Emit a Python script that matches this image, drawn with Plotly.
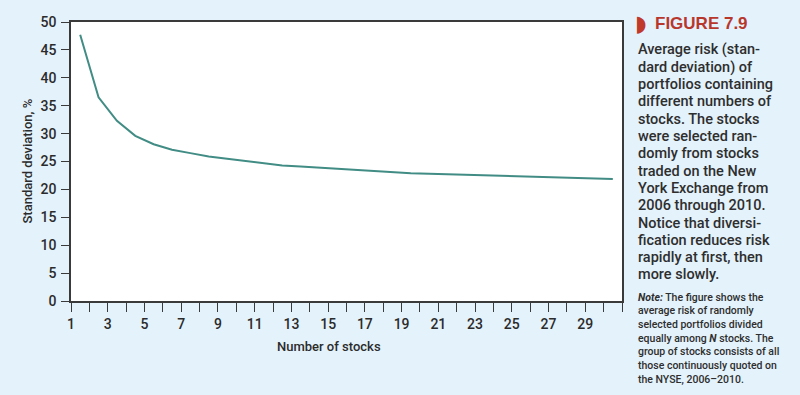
import plotly.graph_objects as go

# Data
num_stocks = list(range(1, 31))
std_dev = [47.7, 36.5, 32.3, 29.6, 28.1, 27.1, 26.5, 25.9, 25.5, 25.1,
           24.7, 24.3, 24.1, 23.9, 23.7, 23.4, 23.2, 23.0, 22.9, 22.8,
           22.7, 22.6, 22.5, 22.45, 22.35, 22.2, 22.1, 22.05, 22.0, 21.85]
x_tick_vals = list(range(1, 32))
x_tick_text = [str(v) if (v % 2 == 1 and v < 31) else "" for v in x_tick_vals]
y_tick_vals = list(range(0, 55, 5))

caption_lines = [
    "Average risk (stan-", "dard deviation) of", "portfolios containing",
    "different numbers of", "stocks. The stocks", "were selected ran-",
    "domly from stocks", "traded on the New", "York Exchange from",
    "2006 through 2010.", "Notice that diversi-", "fication reduces risk",
    "rapidly at first, then", "more slowly.",
]
note_lines = [
    "<b><i>Note:</i></b> The figure shows the",
    "average risk of randomly",
    "selected portfolios divided",
    "equally among <b><i>N</i></b> stocks. The",
    "group of stocks consists of all",
    "those continuously quoted on",
    "the NYSE, 2006–2010.",
]

BG = "#E4F2FB"
AX = "#3a3a3a"
TXT = "#2b2b2b"
ROB = "Roboto, Liberation Sans, Arial, sans-serif"
SANS = "Liberation Sans, Arial, Helvetica, sans-serif"

fig = go.Figure()
fig.add_trace(go.Scatter(
    x=[n + 0.5 for n in num_stocks], y=std_dev, mode="lines",
    line=dict(color="#418c84", width=2), hoverinfo="skip", showlegend=False,
))

tickfont = dict(family=ROB, size=14, color=TXT, weight=500)

fig.update_layout(
    width=800, height=395,
    paper_bgcolor=BG, plot_bgcolor="white",
    margin=dict(l=71, r=178, t=22, b=94),
    xaxis=dict(
        range=[1, 31], tickvals=x_tick_vals, ticktext=x_tick_text,
        ticks="outside", ticklen=9, tickwidth=1.2, tickcolor=AX,
        showline=True, linecolor=AX, linewidth=1.5, mirror=True,
        showgrid=False, zeroline=False, tickfont=tickfont,
    ),
    yaxis=dict(
        range=[0, 50], tickvals=y_tick_vals,
        ticks="outside", ticklen=8, tickwidth=1.2, tickcolor=AX,
        showline=True, linecolor=AX, linewidth=1.5, mirror=True,
        showgrid=False, zeroline=False, tickfont=tickfont,
        ticklabelstandoff=2,
    ),
)

def px_x(px):
    return (px - 71) / 551

def px_y(py):
    return (301 - py) / 279

# axis titles
fig.add_annotation(text="Number of stocks", xref="paper", yref="paper",
                   x=px_x(329), y=px_y(346), showarrow=False,
                   xanchor="center", yanchor="middle",
                   font=dict(family=ROB, size=13, color=TXT, weight=500))
fig.add_annotation(text="Standard deviation, %", xref="paper", yref="paper",
                   x=px_x(27), y=0.5, showarrow=False, textangle=-90,
                   xanchor="center", yanchor="middle",
                   font=dict(family=ROB, size=13, color=TXT, weight=500))

# Figure header
fig.add_annotation(text="◗", xref="paper", yref="paper", x=px_x(633), y=px_y(23),
                   showarrow=False, xanchor="left", yanchor="middle",
                   font=dict(family="DejaVu Sans", size=22, color="#c0392b"))
fig.add_annotation(text="<b>FIGURE 7.9</b>", xref="paper", yref="paper",
                   x=px_x(653), y=px_y(23), showarrow=False,
                   xanchor="left", yanchor="middle",
                   font=dict(family=SANS, size=17, color="#b8372d"))

for i, line in enumerate(caption_lines):
    fig.add_annotation(text=line, xref="paper", yref="paper",
                       x=px_x(636), y=px_y(50 + i * 17.3), showarrow=False,
                       xanchor="left", yanchor="middle",
                       font=dict(family=ROB, size=14.5, color="#2e2e2e", weight=500))

for i, line in enumerate(note_lines):
    fig.add_annotation(text=line, xref="paper", yref="paper",
                       x=px_x(636), y=px_y(297 + i * 13.7), showarrow=False,
                       xanchor="left", yanchor="middle",
                       font=dict(family=ROB, size=10.5, color="#2e2e2e", weight=500))

fig.write_html("out.html", config={"displayModeBar": False},
               post_script="document.body.style.margin='0';")
